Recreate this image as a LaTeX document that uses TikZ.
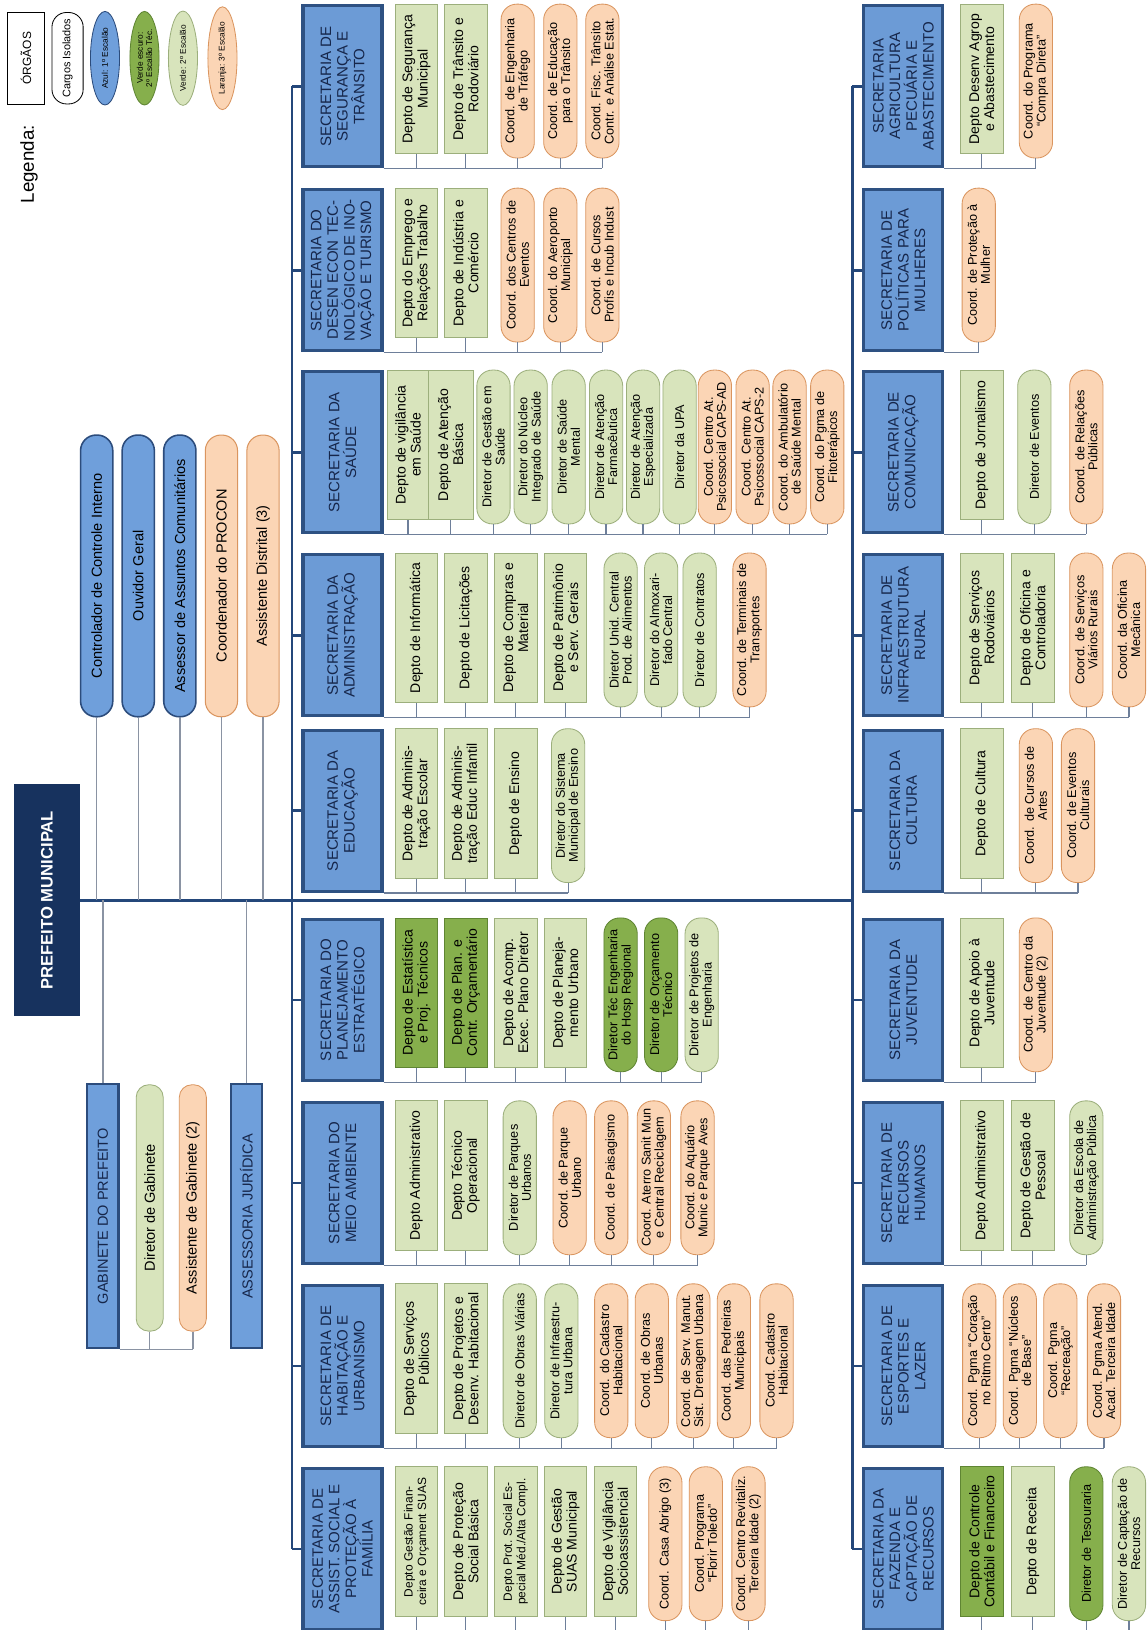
\documentclass[tikz,border=0pt]{standalone}
\usepackage{fontspec}
\setmainfont{Liberation Sans}
\usetikzlibrary{shapes.geometric}
\definecolor{secfill}{HTML}{6C9BD6}
\definecolor{secline}{HTML}{2E5182}
\definecolor{sectext}{HTML}{16264A}
\definecolor{navy}{HTML}{17325E}
\definecolor{trunkc}{HTML}{24477A}
\definecolor{connc}{HTML}{6E7F9A}
\definecolor{grayc}{HTML}{8A93A3}
\definecolor{bfill}{HTML}{6F9FDB}
\definecolor{bline}{HTML}{2C4C7C}
\definecolor{lgfill}{HTML}{D8E4BC}
\definecolor{lgline}{HTML}{9CAF7C}
\definecolor{dgfill}{HTML}{86AF4C}
\definecolor{dgline}{HTML}{5F8533}
\definecolor{orfill}{HTML}{FBD5B5}
\definecolor{orline}{HTML}{DA955F}
\newcommand{\fsz}[2]{\fontsize{#1}{#2}\selectfont}
\newcommand{\hangkids}[3]{%
  \draw[conn] (#1.south west) -- (#2.west |- #1.south west);
  \foreach \ch in {#3} {\draw[conn] (\ch.west) -- (\ch.west |- #1.south west);}}
\newcommand{\stubkids}[2]{%
  \foreach \ch in {#2} {\draw[conn] (\ch.west) -- (\ch.west |- #1.south west);}}
\tikzset{
  base/.style={rotate=90, align=center, inner sep=1pt, text=black, font=\fsz{12}{14}},
  sec/.style={base, draw=secline, line width=3pt, fill=secfill, minimum width=155pt, minimum height=76pt, font=\fsz{14.5}{16}, text=sectext},
  rg/.style={base, draw=lgline, fill=lgfill, line width=0.8pt, minimum width=144pt, minimum height=41pt, font=\fsz{13.5}{14.5}},
  rgs/.style={rg, font=\fsz{11.5}{13}},
  rdg/.style={rg, draw=dgline, fill=dgfill},
  og/.style={base, draw=lgline, fill=lgfill, line width=0.8pt, rounded corners=15pt, minimum width=148pt, minimum height=32pt, font=\fsz{12.2}{12.6}},
  odg/.style={og, draw=dgline, fill=dgfill},
  oor/.style={og, draw=orline, fill=orfill},
  cargob/.style={base, draw=bline, line width=1.5pt, fill=bfill, rounded corners=15pt, minimum width=271pt, minimum height=31pt, font=\fsz{14}{16}},
  cargoo/.style={cargob, draw=orline, line width=1pt, fill=orfill},
  conn/.style={draw=connc, line width=1.1pt},
  gline/.style={draw=grayc, line width=1.4pt},
  trunk/.style={draw=trunkc, line width=2.6pt},
  leg/.style={base, ellipse, inner sep=0pt, minimum width=90pt, minimum height=28pt, font=\fsz{8}{9}, line width=0.8pt}
}
\begin{document}
\begin{tikzpicture}[x=1pt, y=-1pt]
\useasboundingbox (0,0) rectangle (1103,1568);
\fill[white] (0,0) rectangle (1103,1568);

% legend
\node[rotate=90, font=\fsz{18}{20}] (legt) at (28,158) {Legenda:};
\node[base, draw=black, line width=0.8pt, fill=white, minimum width=88pt, minimum height=36pt, font=\fsz{11.5}{13}] (lorg) at (25,56) {ÓRGÃOS};
\node[base, draw=black, line width=0.8pt, fill=white, rounded corners=14pt, minimum width=88pt, minimum height=30pt, font=\fsz{10.5}{12}] (lcar) at (65,56) {Cargos Isolados};
\node[leg, draw=bline, fill=bfill] (lazul) at (101,56) {Azul: 1º Escalão};
\node[leg, draw=dgline, fill=dgfill] (lvesc) at (139,56) {Verde escuro:\\2º Escalão Téc.};
\node[leg, draw=lgline, fill=lgfill] (lverde) at (176,56) {Verde: 2º Escalão};
\node[leg, draw=orline, fill=orfill] (llar) at (214,56) {Laranja: 3º Escalão};

% prefeito and cabinet
\node[base, fill=navy, minimum width=223pt, minimum height=64pt, text=white, font=\bfseries\fsz{16}{18}] (pref) at (45,866) {PREFEITO MUNICIPAL};
\node[cargob] (ctrl) at (93,554) {Controlador de Controle Interno};
\node[cargob] (ouv) at (133,554) {Ouvidor Geral};
\node[cargob] (ass) at (173,554) {Assessor de Assuntos Comunitários};
\node[cargoo] (proc) at (213,554) {Coordenador do PROCON};
\node[cargoo] (dist) at (253,554) {Assistente Distrital (3)};
\node[base, draw=bline, line width=2pt, fill=bfill, minimum width=254pt, minimum height=30pt, font=\fsz{14}{16}, text=sectext] (gab) at (99,1170) {GABINETE DO PREFEITO};
\node[og, minimum width=237pt, minimum height=26pt, rounded corners=12pt, font=\fsz{14}{16}] (dgab) at (144,1162) {Diretor de Gabinete};
\node[oor, minimum width=237pt, minimum height=26pt, rounded corners=12pt, font=\fsz{14}{16}] (agab) at (185.5,1162) {Assistente de Gabinete (2)};
\node[base, draw=bline, line width=2pt, fill=bfill, minimum width=254pt, minimum height=30pt, font=\fsz{14}{16}, text=sectext] (asj) at (237,1170) {ASSESSORIA JURÍDICA};

% row 1 secretarias
\node[sec] (s1) at (329.5,83) {SECRETARIA DE\\SEGURANÇA E\\TRÂNSITO};
\node[sec] (s2) at (329.5,260) {SECRETARIA DO\\DESEN ECON TEC-\\NOLÓGICO DE INO-\\VAÇÃO E TURISMO};
\node[sec] (s3) at (329.5,435) {SECRETARIA DA\\SAÚDE};
\node[sec] (s4) at (329.5,611) {SECRETARIA DA\\ADMINISTRAÇÃO};
\node[sec] (s5) at (329.5,780) {SECRETARIA DA\\EDUCAÇÃO};
\node[sec] (s6) at (329.5,962) {SECRETARIA DO\\PLANEJAMENTO\\ESTRATÉGICO};
\node[sec] (s7) at (329.5,1138) {SECRETARIA DO\\MEIO AMBIENTE};
\node[sec] (s8) at (329.5,1314) {SECRETARIA DE\\HABITAÇÃO E\\URBANISMO};
\node[sec] (s9) at (329.5,1490) {SECRETARIA DE\\ASSIST. SOCIAL E\\PROTEÇÃO À\\FAMÍLIA};

% row 2 secretarias
\node[sec] (t1) at (869,83) {SECRETARIA\\AGRICULTURA\\PECUÁRIA E\\ABASTECIMENTO};
\node[sec] (t2) at (869,260) {SECRETARIA DE\\POLÍTICAS PARA\\MULHERES};
\node[sec] (t3) at (869,435) {SECRETARIA DE\\COMUNICAÇÃO};
\node[sec] (t4) at (869,611) {SECRETARIA DE\\INFRAESTRUTURA\\RURAL};
\node[sec] (t5) at (869,780) {SECRETARIA DA\\CULTURA};
\node[sec] (t6) at (869,962) {SECRETARIA DA\\JUVENTUDE};
\node[sec] (t7) at (869,1138) {SECRETARIA DE\\RECURSOS\\HUMANOS};
\node[sec] (t8) at (869,1314) {SECRETARIA DE\\ESPORTES E\\LAZER};
\node[sec] (t9) at (869,1490) {SECRETARIA DA\\FAZENDA E\\CAPTAÇÃO DE\\RECURSOS};

% s1
\node[rg] (s1a) at (400.5,76) {Depto de Segurança\\Municipal};
\node[rg] (s1b) at (448,76) {Depto de Trânsito e\\Rodoviário};
\node[oor] (s1c) at (498,78) {Coord. de Engenharia\\de Tráfego};
\node[oor] (s1d) at (539,78) {Coord. de Educação\\para o Trânsito};
\node[oor] (s1e) at (579.5,78) {Coord. Fisc. Trânsito\\Contr. e Análise Estat.};
% s2
\node[rg] (s2a) at (400.5,253) {Depto do Emprego e\\Relações Trabalho};
\node[rg] (s2b) at (448,253) {Depto de Indústria e\\Comércio};
\node[oor] (s2c) at (498,255) {Coord. dos Centros de\\Eventos};
\node[oor] (s2d) at (539,255) {Coord. do Aeroporto\\Municipal};
\node[oor] (s2e) at (579.5,255) {Coord. de Cursos\\Profis e Incub Indust};
% s3
\node[rg, minimum height=39pt] (s3a) at (392.5,428) {Depto de vigilância\\em Saúde};
\node[rg, minimum height=43pt] (s3b) at (433.5,428) {Depto de Atenção\\Básica};
\node[og] (s3c) at (474.7,430) {Diretor de Gestão em\\Saúde};
\node[og] (s3d) at (510.5,430) {Diretor do Núcleo\\Integrado de Saúde};
\node[og] (s3e) at (547,430) {Diretor de Saúde\\Mental};
\node[og] (s3f) at (583,430) {Diretor de Atenção\\Farmacêutica};
\node[og] (s3g) at (618.6,430) {Diretor de Atenção\\Especializada};
\node[og] (s3h) at (653.7,430) {Diretor da UPA};
\node[oor] (s3i) at (687.7,430) {Coord. Centro At.\\Psicossocial CAPS-AD};
\node[oor] (s3j) at (724,430) {Coord. Centro At.\\Psicossocial CAPS-2};
\node[oor] (s3k) at (759.5,430) {Coord. do Ambulatório\\de Saúde Mental};
\node[oor] (s3l) at (795.8,430) {Coord. do Pgma de\\Fitoterápicos};
% s4
\node[rg] (s4a) at (400.5,604) {Depto de Informática};
\node[rg] (s4b) at (448,604) {Depto de Licitações};
\node[rg] (s4c) at (496,604) {Depto de Compras e\\Material};
\node[rg] (s4d) at (544,604) {Depto de Patrimônio\\e Serv. Gerais};
\node[og] (s4e) at (597,606) {Diretor Unid. Central\\Prod. de Alimentos};
\node[og] (s4f) at (636,606) {Diretor do Almoxari-\\fado Central};
\node[og] (s4g) at (673,606) {Diretor de Contratos};
\node[oor] (s4h) at (721,606) {Coord. de Terminais de\\Transportes};
% s5
\node[rg] (s5a) at (400.5,773) {Depto de Adminis-\\tração Escolar};
\node[rg] (s5b) at (448,773) {Depto de Adminis-\\tração Educ Infantil};
\node[rg] (s5c) at (496,773) {Depto de Ensino};
\node[og] (s5d) at (546.5,775) {Diretor do Sistema\\Municipal de Ensino};
% s6
\node[rdg] (s6a) at (400.5,955) {Depto de Estatística\\e Proj. Técnicos};
\node[rdg] (s6b) at (448,955) {Depto de Plan. e\\Contr. Orçamentário};
\node[rg] (s6c) at (496,955) {Depto de Acomp.\\Exec. Plano Diretor};
\node[rg] (s6d) at (544,955) {Depto de Planeja-\\mento Urbano};
\node[odg] (s6e) at (597,957) {Diretor Téc Engenharia\\do Hosp Regional};
\node[odg] (s6f) at (636,957) {Diretor de Orçamento\\Técnico};
\node[og] (s6g) at (675,957) {Diretor de Projetos de\\Engenharia};
% s7
\node[rg] (s7a) at (400.5,1131) {Depto Administrativo};
\node[rg] (s7b) at (448,1131) {Depto Técnico\\Operacional};
\node[og] (s7c) at (500,1133) {Diretor de Parques\\Urbanos};
\node[oor] (s7d) at (548,1133) {Coord. de Parque\\Urbano};
\node[oor] (s7e) at (588,1133) {Coord. de Paisagismo};
\node[oor] (s7f) at (629,1133) {Coord. Aterro Sanit Mun\\e Central Reciclagem};
\node[oor] (s7g) at (671,1133) {Coord. do Aquário\\Munic e Parque Aves};
% s8
\node[rg] (s8a) at (400.5,1307) {Depto de Serviços\\Públicos};
\node[rg] (s8b) at (448,1307) {Depto de Projetos e\\Desenv. Habitacional};
\node[og] (s8c) at (500,1309) {Diretor de Obras Viárias};
\node[og] (s8d) at (540,1309) {Diretor de Infraestru-\\tura Urbana};
\node[oor] (s8e) at (588,1309) {Coord. do Cadastro\\Habitacional};
\node[oor] (s8f) at (627,1309) {Coord. de Obras\\Urbanas};
\node[oor] (s8g) at (667,1309) {Coord. de Serv. Manut.\\Sist. Drenagem Urbana};
\node[oor] (s8h) at (706,1309) {Coord. das Pedreiras\\Municipais};
\node[oor] (s8i) at (747,1309) {Coord. Cadastro\\Habitacional};
% s9
\node[rgs] (s9a) at (400.5,1483) {Depto Gestão Finan-\\ceira e Orçament SUAS};
\node[rg] (s9b) at (448,1483) {Depto de Proteção\\Social Básica};
\node[rgs] (s9c) at (496,1483) {Depto Prot. Social Es-\\pecial Méd./Alta Compl.};
\node[rg] (s9d) at (544,1483) {Depto de Gestão\\SUAS Municipal};
\node[rg] (s9e) at (592,1483) {Depto de Vigilância\\Socioassistencial};
\node[oor] (s9f) at (640,1485) {Coord. Casa Abrigo (3)};
\node[oor] (s9g) at (679,1485) {Coord. Programa\\“Florir Toledo”};
\node[oor] (s9h) at (720,1485) {Coord. Centro Revitaliz.\\Terceira Idade (2)};

% row 2 children
\node[rg] (t1a) at (944.5,76) {Depto Desenv Agrop\\e Abastecimento};
\node[oor] (t1b) at (996.5,78) {Coord. do Programa\\“Compra Direta”};
\node[oor] (t2a) at (941.5,255) {Coord. de Proteção à\\Mulher};
\node[rg] (t3a) at (944.5,428) {Depto de Jornalismo};
\node[og] (t3b) at (995,430) {Diretor de Eventos};
\node[oor] (t3c) at (1045,430) {Coord. de Relações\\Públicas};
\node[rg] (t4a) at (944.5,604) {Depto de Serviços\\Rodoviários};
\node[rg] (t4b) at (993.5,604) {Depto de Oficina e\\Controladoria};
\node[oor] (t4c) at (1045,606) {Coord. de Serviços\\Viários Rurais};
\node[oor] (t4d) at (1086,606) {Coord. da Oficina\\Mecânica};
\node[rg] (t5a) at (944.5,773) {Depto de Cultura};
\node[oor] (t5b) at (996.5,775) {Coord. de Cursos de\\Artes};
\node[oor] (t5c) at (1037,775) {Coord. de Eventos\\Culturais};
\node[rg] (t6a) at (944.5,955) {Depto de Apoio à\\Juventude};
\node[oor] (t6b) at (996.5,957) {Coord. de Centro da\\Juventude (2)};
\node[rg] (t7a) at (944.5,1131) {Depto Administrativo};
\node[rg] (t7b) at (993.5,1131) {Depto de Gestão de\\Pessoal};
\node[og] (t7c) at (1045,1133) {Diretor da Escola de\\Administração Pública};
\node[oor] (t8a) at (942,1309) {Coord. Pgma “Coração\\no Ritmo Certo”};
\node[oor] (t8b) at (981,1309) {Coord. Pgma “Núcleos\\de Base”};
\node[oor] (t8c) at (1020,1309) {Coord. Pgma\\“Recreação”};
\node[oor] (t8d) at (1062,1309) {Coord. Pgma Atend.\\Acad. Terceira Idade};
\node[rdg] (t9a) at (944.5,1483) {Depto de Controle\\Contábil e Financeiro};
\node[rg] (t9b) at (993.5,1483) {Depto de Receita};
\node[odg] (t9c) at (1045,1485) {Diretor de Tesouraria};
\node[og] (t9d) at (1086,1485) {Diretor de Captação de\\Recursos};

% main structure
\coordinate (r1) at (281,0);
\coordinate (r2) at (820,0);
\draw[trunk] (pref.south) -- (pref.south -| r2);
\draw[trunk] (s1.north -| r1) -- (s9.north -| r1);
\draw[trunk] (t1.north -| r2) -- (t9.north -| r2);
\foreach \s in {s1,s2,s3,s4,s5,s6,s7,s8,s9} {\draw[trunk] (\s.north) -- (\s.north -| r1);}
\foreach \s in {t1,t2,t3,t4,t5,t6,t7,t8,t9} {\draw[trunk] (\s.north) -- (\s.north -| r2);}
\foreach \n in {ctrl,ouv,ass,proc,dist} {\draw[gline] (\n.west) -- (\n.west |- pref.south);}
\draw[gline] (gab.east) -- (gab.east |- pref.south);
\draw[gline] (asj.east) -- (asj.east |- pref.south);
\draw[gline] (gab.south west) -- (agab.west |- gab.south west);
\draw[gline] (dgab.west) -- (dgab.west |- gab.south west);
\draw[gline] (agab.west) -- (agab.west |- gab.south west);

% children connectors
\hangkids{s1}{s1e}{s1a,s1b,s1c,s1d,s1e}
\hangkids{s2}{s2e}{s2a,s2b,s2c,s2d,s2e}
\hangkids{s3}{s3l}{s3a,s3b,s3c,s3d,s3e,s3f,s3g,s3h,s3i,s3j,s3k,s3l}
\hangkids{s4}{s4h}{s4a,s4b,s4c,s4d,s4e,s4f,s4g,s4h}
\hangkids{s5}{s5d}{s5a,s5b,s5c,s5d}
\hangkids{s6}{s6g}{s6a,s6b,s6c,s6d,s6e,s6f,s6g}
\hangkids{s7}{s7g}{s7a,s7b,s7c,s7d,s7e,s7f,s7g}
\hangkids{s8}{s8i}{s8a,s8b,s8c,s8d,s8e,s8f,s8g,s8h,s8i}
\stubkids{s9}{s9a,s9b,s9c,s9d,s9e,s9f,s9g,s9h}
\hangkids{t1}{t1b}{t1a,t1b}
\hangkids{t2}{t2a}{t2a}
\hangkids{t3}{t3c}{t3a,t3b,t3c}
\hangkids{t4}{t4d}{t4a,t4b,t4c,t4d}
\hangkids{t5}{t5c}{t5a,t5b,t5c}
\hangkids{t6}{t6b}{t6a,t6b}
\hangkids{t7}{t7c}{t7a,t7b,t7c}
\hangkids{t8}{t8d}{t8a,t8b,t8c,t8d}
\stubkids{t9}{t9a,t9b,t9c,t9d}
\end{tikzpicture}
\end{document}
